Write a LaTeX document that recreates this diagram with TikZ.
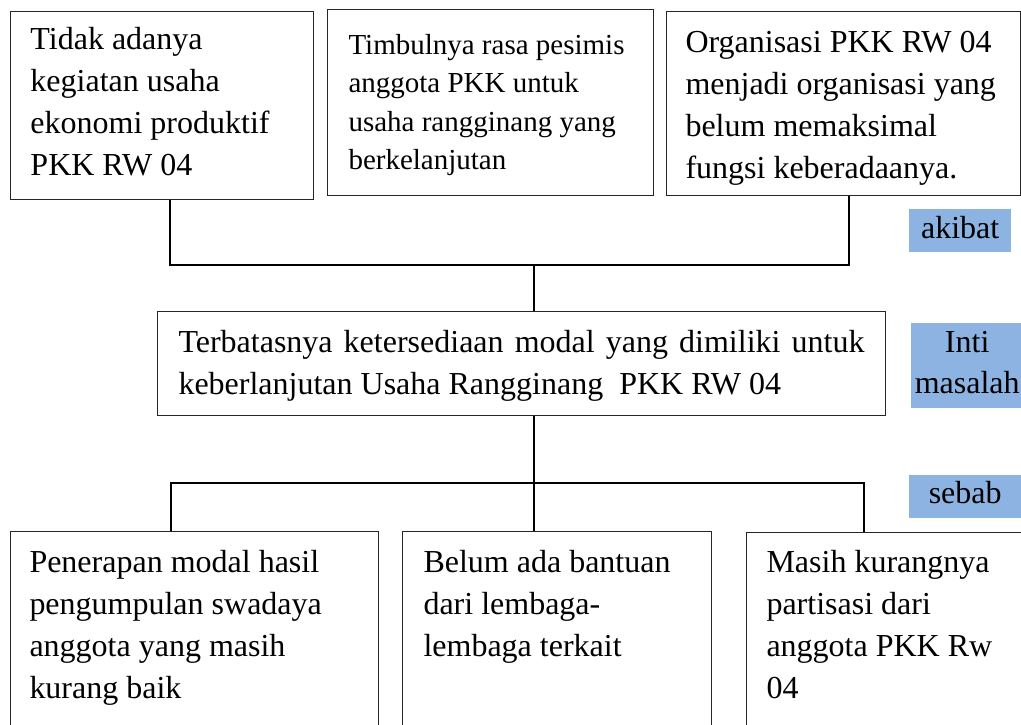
\documentclass[tikz,border=0pt]{standalone}
\usepackage{fontspec}
\setmainfont{Liberation Serif}
\usetikzlibrary{positioning,calc}
\definecolor{birumuda}{HTML}{8DB3E2}

\begin{document}
\begin{tikzpicture}[x=1pt,y=-1pt,
  kotak/.style={draw=black!85,line width=1pt,anchor=north west,inner ysep=0pt,align=flush left,font=\fontsize{32}{42}\selectfont},
  tanda/.style={fill=birumuda,anchor=north west,inner sep=0pt,align=flush center,font=\fontsize{32}{41}\selectfont},
  garis/.style={line width=2.8pt}]
\path[use as bounding box] (0,0) rectangle (1021,724);
\clip (0,0) rectangle (1021,724);
\node[kotak,inner xsep=20pt,text width=263pt,text height=38pt,text depth=150pt] (akibat1) at (10,11) {Tidak adanya\\kegiatan usaha\\ekonomi produktif\\PKK RW 04};
\node[kotak,inner xsep=21pt,text width=284pt,text height=45pt,text depth=141pt,font=\fontsize{29}{38.3}\selectfont] (akibat2) at (327,9) {Timbulnya rasa pesimis\\anggota PKK untuk\\usaha rangginang yang\\berkelanjutan};
\node[kotak,inner xsep=19pt,text width=316pt,text height=41pt,text depth=143pt] (akibat3) at (666,11) {Organisasi PKK RW 04\\menjadi organisasi yang\\belum memaksimal\\fungsi keberadaanya.};
\node[kotak,inner xsep=21pt,text width=686pt,text height=41pt,text depth=63pt] (inti) at (157,311) {\makebox[686pt][s]{Terbatasnya ketersediaan modal yang dimiliki untuk}\\keberlanjutan Usaha Rangginang\ \ PKK RW 04};
\node[kotak,inner xsep=19pt,text width=330pt,text height=41pt,text depth=170pt] (sebab1) at (10,531) {Penerapan modal hasil\\pengumpulan swadaya\\anggota yang masih\\kurang baik};
\node[kotak,inner xsep=21pt,text width=267pt,text height=41pt,text depth=170pt] (sebab2) at (402,531) {Belum ada bantuan\\dari lembaga-\\lembaga terkait};
\node[kotak,inner xsep=20pt,text width=260pt,text height=40pt,text depth=170pt] (sebab3) at (746,532) {Masih kurangnya\\partisasi dari\\anggota PKK Rw\\04};
\node[tanda,text width=102pt,text height=29pt,text depth=14pt] (tAkibat) at (909,209) {akibat};
\node[tanda,text width=112pt,text height=29pt,text depth=56pt] (tInti) at (911,323) {Inti\\masalah};
\node[tanda,text width=112pt,text height=28pt,text depth=15pt] (tSebab) at (909,475) {sebab};
\coordinate (atasKiri) at (170,265);
\coordinate (atasTengah) at (534,265);
\coordinate (atasKanan) at (849,265);
\coordinate (bawahKiri) at (171,483);
\coordinate (bawahTengah) at (534,483);
\coordinate (bawahKanan) at (864,483);
\draw[garis] (akibat1.south -| atasKiri) -- (atasKiri) -- (atasKanan) -- (akibat3.south -| atasKanan);
\draw[garis] (atasTengah) -- (inti.north -| atasTengah);
\draw[garis] (inti.south -| bawahTengah) -- (bawahTengah);
\draw[garis] (sebab1.north -| bawahKiri) -- (bawahKiri) -- (bawahKanan) -- (sebab3.north -| bawahKanan);
\draw[garis] (bawahTengah) -- (sebab2.north -| bawahTengah);
\end{tikzpicture}
\end{document}
